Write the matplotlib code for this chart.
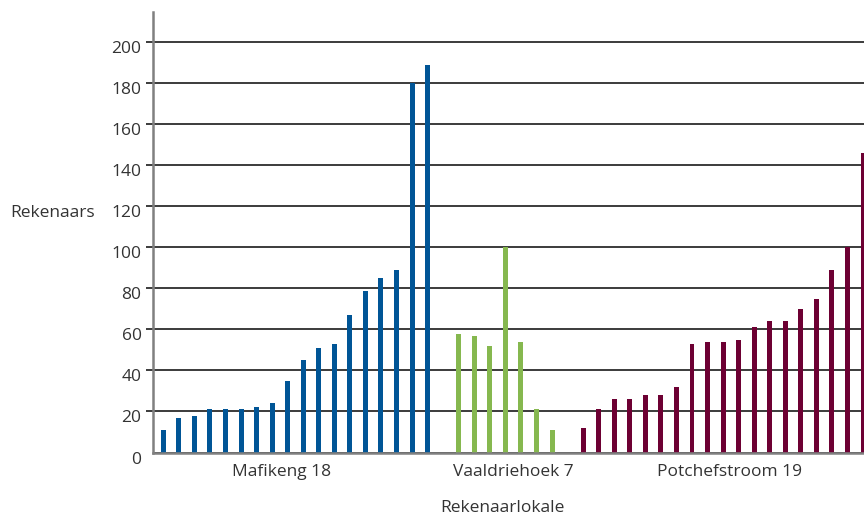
import numpy as np
import matplotlib
matplotlib.use('Agg')
import matplotlib.pyplot as plt
import matplotlib.transforms as mtrans

plt.rcParams['font.family'] = ['Open Sans', 'DejaVu Sans']

# data
mafikeng = [11, 17, 18, 21, 21, 21, 22, 24, 35, 45, 51, 53, 67, 79, 85, 89, 180, 189]
vaaldriehoek = [58, 57, 52, 100, 54, 21, 11]
potchefstroom = [12, 21, 26, 26, 28, 28, 32, 53, 54, 54, 55, 61, 64, 64, 70, 75, 89, 100, 146]
group_labels = ['Mafikeng 18', 'Vaaldriehoek 7', 'Potchefstroom 19']
colors = ['#005596', '#86b84f', '#6d0033']
yticks = [0, 20, 40, 60, 80, 100, 120, 140, 160, 180, 200]

txt = '#333333'

fig = plt.figure(figsize=(8.64, 5.15), dpi=100)
ax = fig.add_axes([152.7 / 864, 1 - 452.5 / 515, (864 - 152.7) / 864, (452.5 - 11.7) / 515])

groups = [mafikeng, vaaldriehoek, potchefstroom]
start = 0
centers = []
for vals, c in zip(groups, colors):
    x = np.arange(start, start + len(vals))
    ax.bar(x, vals, width=0.32, color=c, zorder=3)
    centers.append(x.mean())
    start += len(vals) + 1

ax.set_xlim(-0.68, 45.06)
ax.set_ylim(0, 215)

# horizontal gridlines
ax.set_yticks(yticks)
ax.yaxis.grid(True, color='#1a1a1a', linewidth=1.2, zorder=1)
ax.set_axisbelow(True)
ax.tick_params(axis='y', direction='out', length=5, width=1.2, color='#1a1a1a',
               labelsize=12.5, labelcolor=txt, pad=3)
ax.yaxis.get_major_ticks()[0].tick1line.set_visible(False)
off = mtrans.ScaledTranslation(0, -5 / 100, fig.dpi_scale_trans)
for lab in ax.get_yticklabels():
    lab.set_transform(lab.get_transform() + off)

label_pos = [centers[0] - 0.9, centers[1] + 0.5, centers[2] + 0.4]
ax.set_xticks(label_pos)
ax.set_xticklabels(group_labels)
ax.tick_params(axis='x', length=0, labelsize=12.5, labelcolor=txt, pad=8)

for s in ['top', 'right']:
    ax.spines[s].set_visible(False)
for s in ['left', 'bottom']:
    ax.spines[s].set_color('#808080')
    ax.spines[s].set_linewidth(1.8)
    ax.spines[s].set_zorder(4)

fig.text(10 / 864, 1 - 213 / 515, 'Rekenaars', fontsize=12.5, color=txt, va='center', ha='left')
fig.text(502 / 864, 1 - 508 / 515, 'Rekenaarlokale', fontsize=12.5, color=txt, va='center', ha='center')

fig.savefig('out.png', dpi=100)
